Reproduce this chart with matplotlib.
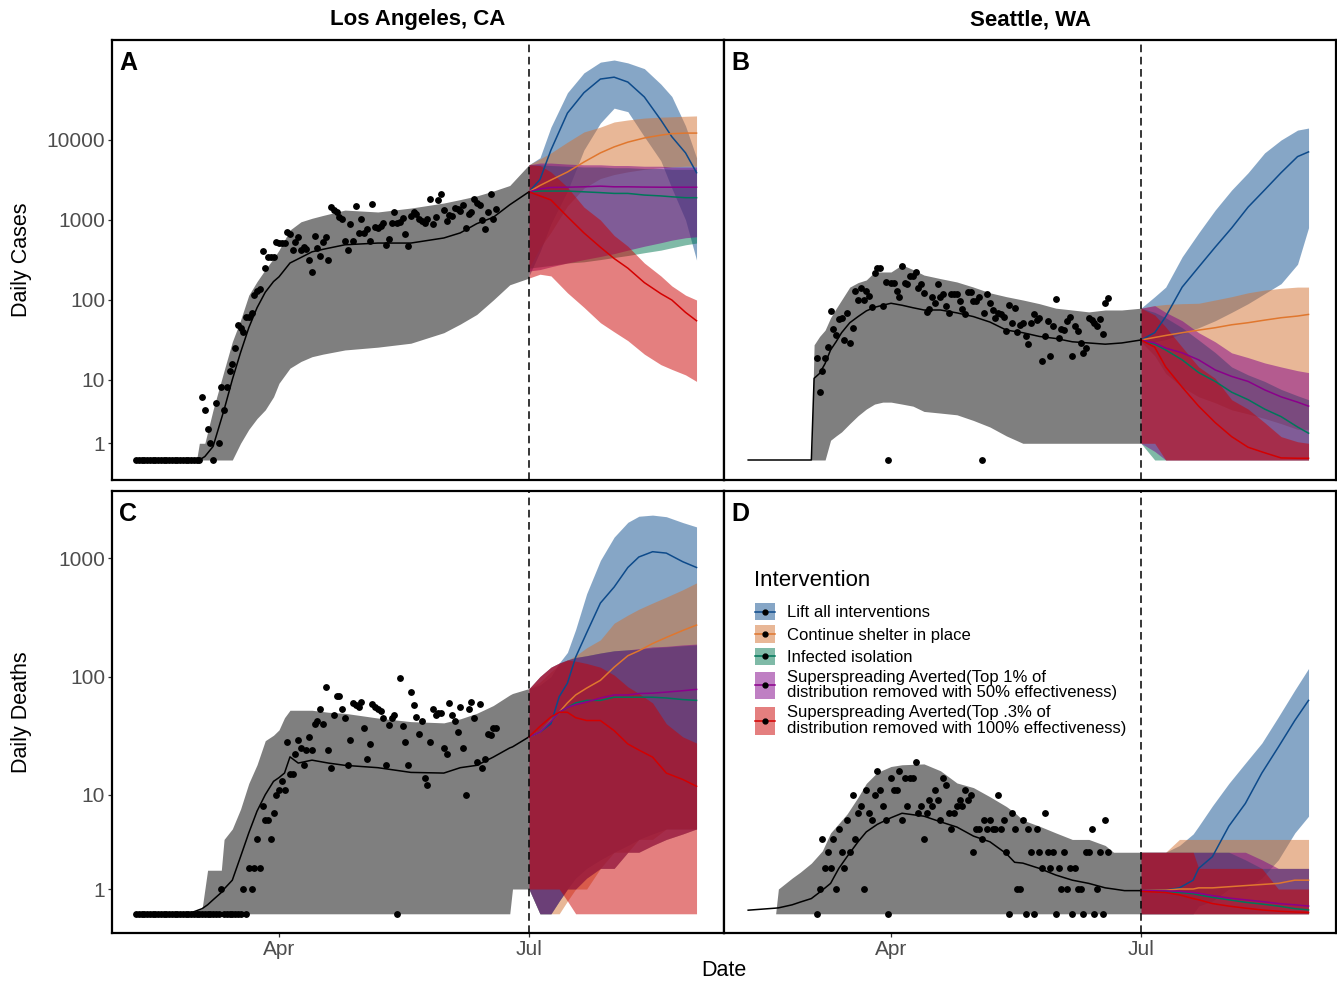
import numpy as np
import matplotlib
matplotlib.use("Agg")
import matplotlib.pyplot as plt
import matplotlib.dates as mdates
from matplotlib.patches import Rectangle
from matplotlib.lines import Line2D
from matplotlib.legend_handler import HandlerBase

plt.rcParams["font.family"] = ["Liberation Sans", "DejaVu Sans"]

# ---------------------------------------------------------------
# data (days counted from 1 April 2020; observed series are daily)
# ---------------------------------------------------------------
interventions = [
    "Lift all interventions",
    "Continue shelter in place",
    "Infected isolation",
    "Superspreading Averted(Top 1% of\ndistribution removed with 50% effectiveness)",
    "Superspreading Averted(Top .3% of\ndistribution removed with 100% effectiveness)",
]
line_colors = ["#0D4A8A", "#E0772E", "#00775A", "#8B008B", "#D40000"]
fill_colors = ["#0F4F8F", "#D37131", "#007751", "#810089", "#CB0000"]

# --- Los Angeles, cases ---
la_cases_fit_days = [-52, -30, -29, -27, -24, -20, -17, -14, -11, -8, -5, -2, 0, 4, 8,
                     12, 16, 24, 36, 48, 60, 66, 72, 78, 84, 91]
la_cases_fit_med = [0, 0, 0, 0.2, 0.8, 4, 10, 22, 45, 80, 125, 170, 195, 290, 340,
                    400, 430, 490, 515, 515, 596, 690, 900, 1080, 1550, 2250]
la_cases_fit_lo = [0, 0, 0, 0, 0, 0, 0, 1, 2, 3, 4, 6, 9, 14, 17,
                   19.5, 21, 23.7, 25.7, 28.8, 39, 50, 66, 100, 155, 188]
la_cases_fit_hi = [0, 0, 1, 1, 4, 13, 30, 56, 115, 170, 240, 330, 420, 750, 950,
                   1050, 1140, 1330, 1260, 1410, 1630, 1800, 2000, 2300, 2700, 4900]
la_cases_obs_first = -52
la_cases_obs = [0] * 24 + [
    6, 4, 2, 1, 0, 5, 1, 8, 4, 8,
    13, 16, 25, 49, 45, 40, 62, 62, 69, 115,
    129, 136, 410, 251, 347, 340, 340, 531, 515, 515,
    515, 708, 672, 422, 531, 617, 422, 457, 436, 316,
    224, 631, 447, 355, 531, 617, 316, 1450, 1330, 1260,
    1100, 1030, 550, 422, 891, 550, 1500, 690, 1030, 690,
    776, 550, 1585, 813, 794, 851, 912, 490, 575, 912,
    1260, 912, 955, 1060, 672, 470, 1120, 1260, 1190, 1030,
    977, 912, 1030, 1830, 891, 1100, 1780, 2110, 1330, 977,
    1150, 1120, 1410, 1370, 1290, 1540, 794, 1190, 1260, 1830,
    1630, 1540, 1000, 776, 1260, 2110, 1030, 1370]
la_cases_proj_days = [91, 95, 99, 105, 111, 117, 122, 127, 133, 139, 143, 148, 152]
la_cases_proj_med = [
    [2250, 3200, 7500, 21700, 39000, 57800, 61000, 53000, 34500, 17800, 11000, 6900, 3900],
    [2250, 2700, 3160, 3980, 5300, 6900, 8200, 9400, 10600, 11500, 12000, 12200, 12200],
    [2250, 2300, 2300, 2300, 2250, 2200, 2150, 2150, 2050, 2000, 1950, 1900, 1900],
    [2250, 2450, 2550, 2570, 2600, 2650, 2600, 2600, 2580, 2570, 2570, 2570, 2570],
    [2250, 2000, 1780, 1100, 690, 457, 330, 250, 165, 120, 100, 70, 55]]
la_cases_proj_lo = [
    [200, 400, 900, 2300, 7500, 16300, 25000, 22600, 11000, 5500, 2500, 1000, 316],
    [250, 450, 700, 1500, 2500, 3300, 3700, 4000, 4300, 4500, 4600, 4700, 4700],
    [250, 260, 270, 290, 300, 320, 340, 360, 390, 420, 450, 490, 515],
    [230, 240, 260, 290, 320, 350, 380, 420, 470, 520, 560, 600, 617],
    [188, 210, 200, 123, 81, 52, 40, 31, 21, 15.5, 13.5, 11.5, 9.5]]
la_cases_proj_hi = [
    [4900, 6000, 14500, 39000, 69000, 94000, 100000, 92000, 78000, 50000, 35000, 15000, 6000],
    [4900, 5800, 6900, 9400, 12600, 14500, 16800, 17800, 18800, 19300, 19500, 19800, 20000],
    [4900, 4900, 4800, 4700, 4600, 4600, 4500, 4500, 4400, 4400, 4300, 4300, 4300],
    [4900, 5150, 5150, 5000, 4900, 4900, 4800, 4800, 4700, 4700, 4600, 4600, 4600],
    [4900, 4800, 3980, 2570, 1450, 1000, 640, 470, 290, 200, 150, 115, 100]]

# --- Seattle, cases ---
sea_cases_fit_days = [-52, -29, -28, -26, -24, -22, -20, -18, -15, -12, -9, -6, -3, 0, 4,
                      8, 12, 18, 24, 30, 36, 42, 48, 54, 60, 66, 72, 78, 84, 91]
sea_cases_fit_med = [0, 0, 10.4, 12, 16, 23.7, 30, 39, 52, 62, 73, 81, 86, 91, 86,
                     80, 75, 75, 69, 62, 53, 42, 39, 35, 33, 30, 29, 28, 29, 31.6]
sea_cases_fit_lo = [0, 0, 0, 0, 0, 1.2, 1.5, 1.8, 2.5, 3.3, 4.1, 4.8, 5.1, 5.1, 4.8,
                    4.5, 3.8, 3.6, 3.4, 2.8, 2.2, 1.5, 1, 1, 1, 1, 1, 1, 1, 1]
sea_cases_fit_hi = [0, 0, 27.5, 35, 42, 60, 78, 100, 145, 165, 178, 224, 224, 224, 275,
                    240, 205, 185, 168, 145, 123, 110, 100, 90, 79, 75, 71, 75, 75, 79]
sea_cases_obs_first = -27
sea_cases_obs = [
    19, 7, 13, 19, 26, 72, 44, 36, 58, 59,
    32, 69, 29, 45, 129, 100, 141, 100, 129, 112,
    81, 219, 251, 251, 83, 168, 0, 162, 162, 129,
    110, 266, 162, 158, 200, 200, 224, 141, 158, 123,
    71, 77, 110, 91, 158, 110, 118, 83, 69, 118,
    118, 118, 96, 77, 66, 126, 126, 96, 96, 110,
    0, 69, 118, 91, 75, 59, 69, 66, 62, 41,
    86, 51, 79, 40, 49, 51, 35, 28, 51, 67,
    56, 59, 17, 35, 55, 20, 47, 102, 33, 44,
    42, 55, 62, 20, 47, 41, 29, 22, 25, 59,
    56, 51, 47, 58, 38, 91, 105]
sea_cases_proj_days = [91, 96, 100, 106, 112, 118, 124, 130, 136, 142, 148, 152]
sea_cases_proj_med = [
    [31.6, 39, 62, 145, 258, 457, 794, 1450, 2370, 3900, 6200, 7100],
    [31.6, 34, 36, 39, 42, 45, 49, 52, 56, 60, 63, 66],
    [31.6, 28, 23.7, 17.8, 12.3, 9.5, 6.9, 5.5, 4.1, 3.2, 2.2, 1.7],
    [31.6, 29, 25, 21.8, 17.8, 13.3, 11, 9.5, 7.4, 6.0, 5.1, 4.5],
    [31.6, 25.7, 14.5, 8.0, 4.5, 2.6, 1.45, 0.75, 0.42, 0.12, 0.1, 0.1]]
sea_cases_proj_lo = [
    [30, 30, 32, 38, 45, 55, 70, 90, 120, 160, 280, 800],
    [30, 20, 12, 8, 6, 5, 4, 3.5, 3, 2.5, 2, 2],
    [1, 0, 0, 0, 0, 0, 0, 0, 0, 0, 0, 0],
    [1, 0.5, 0, 0, 0, 0, 0, 0, 0, 0, 0, 0],
    [1, 1, 0, 0, 0, 0, 0, 0, 0, 0, 0, 0]]
sea_cases_proj_hi = [
    [79, 110, 145, 347, 690, 1330, 2370, 3900, 6900, 10000, 13300, 14100],
    [79, 85, 88, 90, 91, 100, 110, 123, 133, 140, 145, 145],
    [79, 70, 60, 45, 31.6, 22, 14.5, 11.5, 9.5, 7.5, 6.2, 5.5],
    [79, 85, 70, 55, 39, 30, 21.8, 19, 16.3, 14.5, 13, 12.3],
    [79, 65, 46, 25.7, 14.5, 10.4, 5.5, 4.1, 2.6, 1.45, 1.1, 1]]

# --- Los Angeles, deaths ---
la_deaths_fit_days = [-52, -33, -28, -26, -24, -21, -20, -17, -14, -11, -8, -5, -2, 0, 2,
                      4, 7, 12, 18, 24, 36, 48, 60, 66, 72, 78, 84, 85, 90, 91]
la_deaths_fit_med = [0, 0, 0.2, 0.35, 0.55, 0.85, 1.0, 1.4, 2.7, 4.6, 7.2, 10, 13, 14, 15.3,
                     21, 18.6, 19.7, 18.6, 17.8, 17, 15.5, 15.3, 17, 17.8, 20.9, 25, 25.5, 30, 31]
la_deaths_fit_lo = [0] * 27 + [1, 1, 1]
la_deaths_fit_hi = [0, 0, 0.2, 1.9, 1.9, 1.9, 4.0, 5.0, 7.5, 12.5, 18, 28.8, 32, 35.5, 45,
                    52, 52, 52, 50, 49, 44.7, 41.7, 40.7, 44, 49, 57, 70, 72, 78, 79]
la_deaths_obs_first = -52
la_deaths_obs = [0] * 31 + [1] + [0] * 7 + [1, 0] + [
    2, 1, 2, 4, 2, 8, 6, 6, 4, 7,
    10, 11, 13, 11, 28, 15, 15, 22, 29, 25,
    18, 24, 31, 24, 40, 42, 53, 40, 81, 24,
    17, 47, 68, 69, 53, 45, 18, 29, 60, 58,
    55, 61, 37, 20, 27, 59, 55, 53, 51, 45,
    18, 39, 45, 47, 0, 98, 38, 28, 18, 74,
    58, 46, 33, 42, 14, 12, 28, 53, 47, 49,
    49, 25, 22, 60, 47, 42, 34, 55, 25, 10,
    53, 61, 45, 19, 59, 17, 20, 33, 32, 37, 37]
la_deaths_proj_days = [91, 95, 99, 102, 105, 108, 112, 117, 122, 127, 131, 136, 141, 147, 152]
la_deaths_proj_med = [
    [31, 34, 40, 67.6, 88, 146, 234, 417, 569, 832, 1020, 1130, 1100, 930, 832],
    [31, 34, 42.6, 50, 60, 70, 80, 93, 120, 150, 165, 190, 214, 245, 272],
    [31, 34, 42, 50, 55, 60, 63, 63, 67, 67, 67, 67, 66, 64, 63],
    [31, 34, 42, 50, 55, 58, 61, 66, 70, 70, 72, 72.5, 74, 76, 78],
    [31, 38, 45.7, 50, 50, 45, 42.6, 42.6, 35, 27, 24, 20.9, 15.3, 13.5, 11.8]]
la_deaths_proj_lo = [
    [1, 0, 0, 0.5, 1, 1.5, 2, 2.5, 3, 3.5, 4, 4.5, 5, 5, 5],
    [1, 0, 0, 0, 0.5, 1, 1, 2, 3, 3, 4, 4, 5, 5, 5],
    [1, 0, 0, 0.5, 1, 1, 1.5, 2, 2, 3, 3, 3.5, 4, 4.5, 5],
    [1, 0, 0, 0.5, 1, 1, 1.5, 2, 2, 3, 3, 3.5, 4, 4.5, 5],
    [1, 1, 1, 1, 0.5, 0, 0, 0, 0, 0, 0, 0, 0, 0, 0]]
la_deaths_proj_hi = [
    [79, 85, 100, 130, 160, 250, 500, 955, 1500, 2000, 2250, 2300, 2230, 1990, 1830],
    [79, 90, 110, 125, 138, 150, 175, 204, 282, 330, 370, 417, 468, 540, 617],
    [79, 100, 120, 130, 138, 145, 150, 158, 165, 168, 170, 175, 178, 182, 185],
    [79, 100, 120, 130, 138, 145, 150, 158, 165, 168, 172, 178, 180, 185, 188],
    [79, 100, 120, 130, 138, 135, 129, 120, 103, 82, 72, 60, 40, 31, 27.5]]

# --- Seattle, deaths ---
sea_deaths_fit_days = [-52, -42, -41, -36, -33, -29, -25, -22, -19, -16, -12, -9, -5, 0, 4,
                       12, 18, 24, 30, 36, 42, 45, 48, 54, 60, 66, 72, 78, 81, 85, 91]
sea_deaths_fit_med = [0.14, 0.22, 0.23, 0.35, 0.46, 0.6, 0.95, 1.25, 2.0, 2.7, 3.8, 4.7, 5.5, 6.3, 6.9,
                      6.5, 5.8, 5.2, 4.3, 3.8, 2.9, 2.35, 2.3, 2.0, 1.65, 1.4, 1.25, 1.05, 1.0, 0.93, 0.93]
sea_deaths_fit_lo = [0] * 31
sea_deaths_fit_hi = [0, 0, 1, 1.5, 1.8, 2.3, 3.1, 4.6, 5.6, 6.8, 9.5, 12.5, 15.5, 17.4, 18,
                     18.3, 16, 12.6, 11.5, 9.6, 7.9, 7, 6.0, 5.3, 4.6, 4.0, 4.0, 3.5, 3.0, 3.0, 3.0]
sea_deaths_obs_first = -27
sea_deaths_obs = [
    0, 1, 4, 2, 3, 2, 4, 1, 5, 3,
    2, 6, 3, 10, 4, 7, 8, 1, 11, 7,
    6, 10, 16, 11, 8, 6, 0, 14, 11, 11,
    16, 6, 14, 8, 14, 14, 19, 7, 8, 4,
    7, 9, 8, 11, 9, 6, 14, 12, 7, 5,
    7, 8, 9, 8, 11, 9, 10, 3, 5, 5,
    4, 6, 5, 6, 5, 5, 10, 5, 6, 3,
    0, 7, 5, 1, 1, 6, 0, 5, 3, 0,
    5, 3, 2, 7, 3, 2, 3, 0, 2, 1,
    3, 1, 2, 0, 2, 1, 1, 0, 3, 3,
    5, 0, 1, 3, 0, 6, 3]
sea_deaths_proj_days = [91, 100, 105, 110, 112, 117, 123, 129, 135, 141, 147, 152]
sea_deaths_proj_med = [
    [0.93, 0.95, 1.05, 1.4, 2.0, 2.7, 5.3, 8.4, 15.3, 25.4, 42.6, 63],
    [0.93, 0.95, 1.0, 1.0, 1.05, 1.05, 1.1, 1.15, 1.2, 1.25, 1.4, 1.4],
    [0.93, 0.9, 0.85, 0.8, 0.75, 0.65, 0.55, 0.45, 0.38, 0.3, 0.2, 0.15],
    [0.93, 0.92, 0.9, 0.85, 0.82, 0.72, 0.62, 0.55, 0.48, 0.4, 0.35, 0.3],
    [0.9, 0.85, 0.75, 0.6, 0.55, 0.4, 0.3, 0.22, 0.15, 0.1, 0.07, 0.05]]
sea_deaths_proj_lo = [
    [0, 0, 0, 0, 0.3, 0.5, 1, 1, 1.5, 2.5, 4.6, 6.5],
    [0] * 12, [0] * 12, [0] * 12, [0] * 12]
sea_deaths_proj_hi = [
    [3, 3, 3.5, 4.5, 5.3, 8, 12.5, 18.6, 27.5, 45.7, 77, 117],
    [3, 3, 4, 4, 4, 4, 4, 4, 4, 4, 4, 4],
    [3, 3, 3, 3, 3, 3, 3, 2.5, 2, 2, 2, 2],
    [3, 3, 3, 3, 3, 3, 3, 3, 2.5, 2, 2, 2],
    [3, 3, 3, 3, 2, 2, 2, 2, 2, 1, 1, 1]]

# ---------------------------------------------------------------
LN10 = np.log(10)


def fwd(v):
    # pseudo-log (asinh) transform, as scales::pseudo_log_trans(base = 10)
    return np.arcsinh(np.asarray(v, dtype=float) / 2.0) / LN10


def inv(t):
    return 2.0 * np.sinh(np.asarray(t, dtype=float) * LN10)


D0 = mdates.date2num(np.datetime64("2020-04-01"))
W, H = 1337, 983

fig = plt.figure(figsize=(W / 100, H / 100), dpi=100)
axA = fig.add_axes([112 / W, 1 - 480 / H, 612 / W, 440 / H])
axB = fig.add_axes([724 / W, 1 - 480 / H, 612 / W, 440 / H])
axC = fig.add_axes([112 / W, 1 - 933 / H, 612 / W, 442 / H])
axD = fig.add_axes([724 / W, 1 - 933 / H, 612 / W, 442 / H])


def draw(ax, fd, fmed, flo, fhi, ofirst, obs, pd_, pmed, plo, phi):
    fx = D0 + np.asarray(fd, dtype=float)
    ax.fill_between(fx, flo, fhi, color="#7F7F7F", lw=0, zorder=1)
    px = D0 + np.asarray(pd_, dtype=float)
    for i in range(5):
        ax.fill_between(px, plo[i], phi[i], color=fill_colors[i], alpha=0.5,
                        lw=0, zorder=2)
    ax.plot(fx, fmed, color="black", lw=1.1, zorder=4)
    ox = D0 + ofirst + np.arange(len(obs))
    ax.plot(ox, obs, "o", color="black", ms=3.9, zorder=5)
    for i in range(5):
        ax.plot(px, pmed[i], color=line_colors[i], lw=1.1, zorder=4)
    ax.axvline(D0 + 91, color="black", lw=1.1, ls=(0, (5, 3)), zorder=6)


draw(axA, la_cases_fit_days, la_cases_fit_med, la_cases_fit_lo, la_cases_fit_hi,
     la_cases_obs_first, la_cases_obs, la_cases_proj_days,
     la_cases_proj_med, la_cases_proj_lo, la_cases_proj_hi)
draw(axB, sea_cases_fit_days, sea_cases_fit_med, sea_cases_fit_lo, sea_cases_fit_hi,
     sea_cases_obs_first, sea_cases_obs, sea_cases_proj_days,
     sea_cases_proj_med, sea_cases_proj_lo, sea_cases_proj_hi)
draw(axC, la_deaths_fit_days, la_deaths_fit_med, la_deaths_fit_lo, la_deaths_fit_hi,
     la_deaths_obs_first, la_deaths_obs, la_deaths_proj_days,
     la_deaths_proj_med, la_deaths_proj_lo, la_deaths_proj_hi)
draw(axD, sea_deaths_fit_days, sea_deaths_fit_med, sea_deaths_fit_lo, sea_deaths_fit_hi,
     sea_deaths_obs_first, sea_deaths_obs, sea_deaths_proj_days,
     sea_deaths_proj_med, sea_deaths_proj_lo, sea_deaths_proj_hi)

for ax in (axA, axB, axC, axD):
    ax.set_yscale("function", functions=(fwd, inv))
    ax.set_xlim(D0 - 60.8, D0 + 162)
    ax.xaxis.set_major_locator(mdates.MonthLocator(bymonth=(1, 4, 7, 10)))
    ax.xaxis.set_major_formatter(mdates.DateFormatter("%b"))
    for s in ax.spines.values():
        s.set_linewidth(1.6)
        s.set_color("black")
    ax.tick_params(length=3, width=0.9, color="#333333", labelsize=15,
                   labelcolor="#4D4D4D", pad=2)

for ax in (axA, axB):
    ax.set_ylim(inv(-0.25), inv(5.25))
    ax.set_yticks([1, 10, 100, 1000, 10000])
    ax.tick_params(bottom=False, labelbottom=False)
for ax in (axC, axD):
    ax.set_ylim(inv(-0.162), inv(3.565))
    ax.set_yticks([1, 10, 100, 1000])
for ax in (axB, axD):
    ax.tick_params(left=False, labelleft=False)
for ax in (axA, axB, axC, axD):
    ax.set_yticklabels([str(v) for v in ax.get_yticks().astype(int)])
    ax.minorticks_off()

for ax, letter in zip((axA, axB, axC, axD), "ABCD"):
    ax.text(0.012, 0.975, letter, transform=ax.transAxes, ha="left", va="top",
            fontsize=18, fontweight="bold", color="black")

fig.text(418 / W, 1 - 20 / H, "Los Angeles, CA", ha="center", va="center",
         fontsize=16, fontweight="bold")
fig.text(1031 / W, 1 - 20 / H, "Seattle, WA", ha="center", va="center",
         fontsize=16, fontweight="bold")
fig.text(22 / W, 1 - 260 / H, "Daily Cases", rotation=90, ha="center",
         va="center", fontsize=15.5)
fig.text(22 / W, 1 - 712 / H, "Daily Deaths", rotation=90, ha="center",
         va="center", fontsize=15.5)
fig.text(724 / W, 1 - 971 / H, "Date", ha="center", va="center", fontsize=15.5)


# legend keys: tinted square with line and dot, stretched for two-line labels
class KeyHandler(HandlerBase):
    def __init__(self, fill, line, rows):
        super().__init__()
        self.fill, self.line, self.rows = fill, line, rows

    def create_artists(self, legend, orig_handle, xdescent, ydescent, width,
                       height, fontsize, trans):
        h = height if self.rows == 1 else height * 1.62
        y0 = -ydescent + (height - h) / 2
        rect = Rectangle((-xdescent, y0), width, h, facecolor=self.fill,
                         alpha=0.5, edgecolor="none", transform=trans)
        ln = Line2D([-xdescent, -xdescent + width], [y0 + h / 2] * 2,
                    color=self.line, lw=1.1, transform=trans)
        dot = Line2D([-xdescent + width / 2], [y0 + h / 2], marker="o", ms=3.5,
                     color="black", lw=0, transform=trans)
        return [rect, ln, dot]


handles = [Line2D([], []) for _ in interventions]
hmap = {h: KeyHandler(fill_colors[i], line_colors[i],
                      interventions[i].count("\n") + 1)
        for i, h in enumerate(handles)}
leg = axD.legend(handles, interventions, handler_map=hmap, loc="upper left",
                 bbox_to_anchor=(0.04, 0.761), frameon=False, fontsize=12,
                 handlelength=1.2, handleheight=1.2, handletextpad=0.72,
                 labelspacing=0.3, borderaxespad=0)
for t in leg.get_texts():
    t.set_linespacing(1.05)
fig.text(754 / W, 1 - 581 / H, "Intervention", ha="left", va="center",
         fontsize=16)

fig.savefig("out.png", dpi=100)
